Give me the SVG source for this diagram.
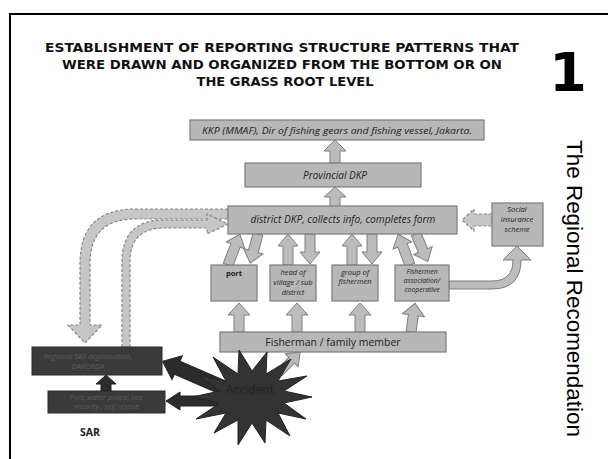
<svg xmlns="http://www.w3.org/2000/svg" width="608" height="459" viewBox="0 0 608 459">
<style>
.title{font-family:"DejaVu Sans Condensed","DejaVu Sans",sans-serif;font-weight:bold;font-size:12.5px;fill:#111;text-anchor:middle}
.box{fill:#b7b7b7;stroke:#7c7c7c;stroke-width:1.2}
.dark{fill:#3a3a3a;stroke:#2a2a2a;stroke-width:1}
.arr{fill:#bcbcbc;stroke:#7e7e7e;stroke-width:1}
.darr{fill:#c6c6c6;stroke:#858585;stroke-width:1.2;stroke-dasharray:3 2}
.barr{fill:#2c2c2c;stroke:#222;stroke-width:1}
.it{font-family:"Open Sans","Liberation Sans",sans-serif;font-style:italic;fill:#222;text-anchor:middle}
.rg{font-family:"Open Sans","Liberation Sans",sans-serif;fill:#222;text-anchor:middle}
.dt{font-family:"Open Sans","Liberation Sans",sans-serif;font-style:italic;font-size:7.5px;fill:#5e5e5e;text-anchor:middle}
</style>
<rect width="608" height="459" fill="#fff"/>
<path d="M10,459 V14 H608" fill="none" stroke="#000" stroke-width="2"/>
<g id="title">
<text class="title" x="282" y="52" textLength="474" lengthAdjust="spacingAndGlyphs">ESTABLISHMENT OF REPORTING STRUCTURE PATTERNS THAT</text>
<text class="title" x="282" y="69" textLength="440" lengthAdjust="spacingAndGlyphs">WERE DRAWN AND ORGANIZED FROM THE BOTTOM OR ON</text>
<text class="title" x="285" y="86" textLength="177" lengthAdjust="spacingAndGlyphs">THE GRASS ROOT LEVEL</text>
<text x="568" y="91" font-family="'DejaVu Sans','Liberation Sans',sans-serif" font-weight="bold" font-size="54" text-anchor="middle" fill="#000">1</text>
<text transform="translate(567,140) rotate(90)" x="0" y="0" font-family="'Liberation Sans',Arial,sans-serif" font-size="22" fill="#000" textLength="297" lengthAdjust="spacingAndGlyphs">The Regional Recomendation</text>
</g>
<g id="connectors">
<path class="darr" d="M228,209 H135 Q80,209 80,264 V325 H68 L85,343 L102,325 H90 V264 Q90,219 135,219 H228 Z"/>
<path class="darr" d="M122,347 V262 Q122,220 164,220 H207 V214 L228,224 L207,234 V228 H164 Q130,228 130,262 V347 Z"/>
<path class="darr" d="M492,214 H474 V209 L462,220 L474,231 V226 H492 Z"/>
<path class="arr" d="M449,281 H492 Q513,281 513,260 H503 L517,246 L531,260 H521 Q521,289 492,289 H449 Z"/>
<path class="arr" transform="translate(335,163)" d="M-5,0 V-12 H-11 L0,-23 L11,-12 H5 V0 Z"/>
<path class="arr" transform="translate(335,207)" d="M-5,0 V-10 H-11 L0,-20 L11,-10 H5 V0 Z"/>
<path class="arr" transform="translate(228,265) rotate(21)" d="M-5,0 V-21 H-10 L0,-33 L10,-21 H5 V0 Z"/>
<path class="arr" transform="translate(258,234) rotate(195)" d="M-5,0 V-18 H-10 L0,-30 L10,-18 H5 V0 Z"/>
<path class="arr" transform="translate(288,265)" d="M-5,0 V-19 H-10 L0,-31 L10,-19 H5 V0 Z"/>
<path class="arr" transform="translate(310,234) rotate(180)" d="M-5,0 V-18 H-10 L0,-30 L10,-18 H5 V0 Z"/>
<path class="arr" transform="translate(352,265)" d="M-5,0 V-19 H-10 L0,-31 L10,-19 H5 V0 Z"/>
<path class="arr" transform="translate(372,234) rotate(180)" d="M-5,0 V-18 H-10 L0,-30 L10,-18 H5 V0 Z"/>
<path class="arr" transform="translate(410,265) rotate(-21)" d="M-5,0 V-21 H-10 L0,-33 L10,-21 H5 V0 Z"/>
<path class="arr" transform="translate(416,234) rotate(157)" d="M-5,0 V-18 H-10 L0,-30 L10,-18 H5 V0 Z"/>
<path class="arr" transform="translate(239,332)" d="M-5,0 V-17 H-11 L0,-29 L11,-17 H5 V0 Z"/>
<path class="arr" transform="translate(297,332)" d="M-5,0 V-17 H-11 L0,-29 L11,-17 H5 V0 Z"/>
<path class="arr" transform="translate(360,332)" d="M-5,0 V-17 H-11 L0,-29 L11,-17 H5 V0 Z"/>
<path class="arr" transform="translate(411,332) rotate(8)" d="M-5,0 V-17 H-11 L0,-29 L11,-17 H5 V0 Z"/>
<path class="arr" transform="translate(279,373) rotate(45)" d="M-4,0 V-18 H-9 L0,-30 L9,-18 H4 V0 Z"/>
<path class="barr" transform="translate(106,391)" d="M-5,0 V-7 H-10 L0,-16 L10,-7 H5 V0 Z"/>
<path class="barr" transform="translate(224,388) rotate(-66.6)" d="M-7,0 V-51 H-13 L0,-67 L13,-51 H7 V0 Z"/>
<path class="barr" transform="translate(218,401) rotate(-90)" d="M-5,0 V-38 H-9 L0,-52 L9,-38 H5 V0 Z"/>
</g>
<g id="kkp">
<rect class="box" x="190" y="120" width="294" height="20"/>
<text class="it" x="337" y="133.5" font-size="9.5" textLength="270" lengthAdjust="spacingAndGlyphs">KKP (MMAF), Dir of fishing gears and fishing vessel, Jakarta.</text>
</g>
<g id="provincial">
<rect class="box" x="245" y="163" width="176" height="24"/>
<text class="it" x="335" y="178.5" font-size="10">Provincial DKP</text>
</g>
<g id="district">
<rect class="box" x="228" y="206" width="229" height="28"/>
<text class="it" x="343" y="223" font-size="10.5" textLength="185" lengthAdjust="spacingAndGlyphs">district DKP, collects info, completes form</text>
</g>
<g id="social">
<rect class="box" x="492" y="203" width="51" height="43"/>
<text class="it" x="517" y="212" font-size="7.5">Social</text>
<text class="it" x="517" y="222" font-size="7.5">insurance</text>
<text class="it" x="517" y="232" font-size="7.5">scheme</text>
</g>
<g id="port">
<rect class="box" x="211" y="265" width="46" height="36"/>
<text class="rg" x="234" y="276" font-size="7.5" font-weight="bold" fill="#333">port</text>
</g>
<g id="head">
<rect class="box" x="270" y="265" width="46" height="36"/>
<text class="it" x="293" y="275" font-size="7.5">head of</text>
<text class="it" x="293" y="285" font-size="7.5">village / sub</text>
<text class="it" x="293" y="295" font-size="7.5">district</text>
</g>
<g id="group">
<rect class="box" x="332" y="265" width="46" height="36"/>
<text class="it" x="355" y="275" font-size="7.5">group of</text>
<text class="it" x="355" y="284" font-size="7.5">fishermen</text>
</g>
<g id="association">
<rect class="box" x="395" y="265" width="54" height="36"/>
<text class="it" x="422" y="274" font-size="6.8">Fishermen</text>
<text class="it" x="422" y="283" font-size="6.8">association/</text>
<text class="it" x="422" y="292" font-size="6.8">cooperative</text>
</g>
<g id="fisherman">
<rect class="box" x="220" y="332" width="226" height="20"/>
<text class="rg" x="333" y="345.5" font-size="10.5">Fisherman / family member</text>
</g>
<g id="regional-sar">
<rect class="dark" x="32" y="347" width="130" height="28"/>
<text class="dt" x="88" y="359">Regional SAR organisation,</text>
<text class="dt" x="88" y="369">DAKORDA</text>
</g>
<g id="port-police">
<rect class="dark" x="48" y="391" width="117" height="22"/>
<text class="dt" x="106" y="400">Port, water police, sea</text>
<text class="dt" x="106" y="409">security , self rescue</text>
</g>
<text x="80" y="436" font-family="'Open Sans','Liberation Sans',sans-serif" font-weight="bold" font-size="10.5" fill="#222">SAR</text>
<g id="accident">
<polygon fill="#333" stroke="#222" stroke-width="1" points="312,397 284,403 306,419 278,413 290,436 266,420 265,443 252,423 238,445 238,420 214,433 226,413 196,419 220,403 192,397 220,391 198,375 226,381 213,357 238,374 239,350 252,371 267,352 266,374 291,359 278,381 307,376 284,391"/>
<text class="rg" x="250" y="394" font-size="12" fill="#151515">Accident</text>
</g>
</svg>
